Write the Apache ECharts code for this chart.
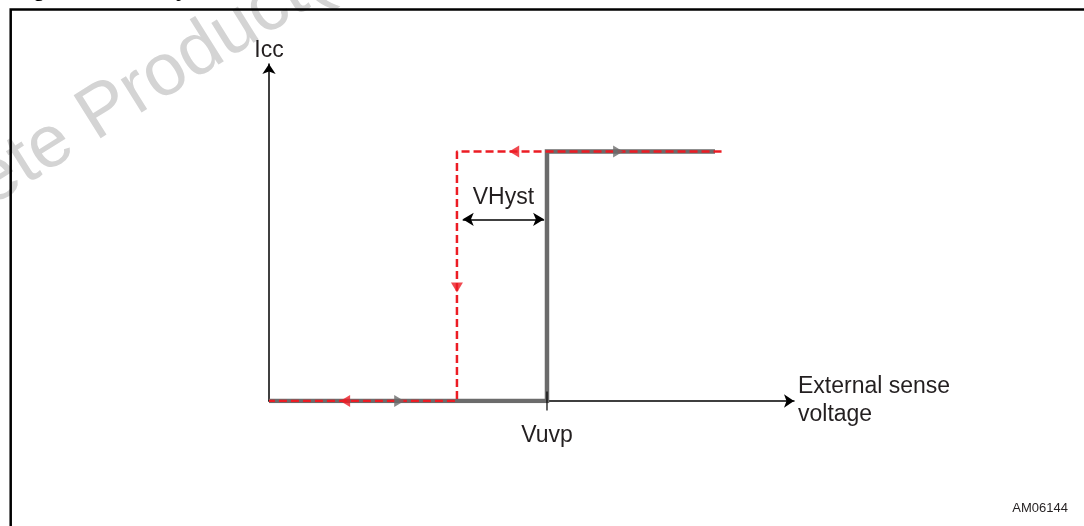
<!DOCTYPE html>
<html>
<head>
<meta charset="utf-8">
<script src="https://cdn.jsdelivr.net/npm/echarts@6/dist/echarts.min.js"></script>
<style>
html,body{margin:0;padding:0;background:#fff;}
#chart{width:1084px;height:526px;}
</style>
</head>
<body>
<div id="chart"></div>
<script>
// ---- data (axis units 0..100) ----
const vOff = 35.8;      // turn-off threshold (Vuvp - VHyst)
const vuvp = 52.95;     // Vuvp
const iLow = 0;
const iHigh = 74.0;
const grayEnd = 84.95;
const redStart = 86.2;
const grayPath = [[0, iLow], [vuvp, iLow], [vuvp, iHigh], [grayEnd, iHigh]];
const redPath = [[redStart, iHigh], [vOff, iHigh], [vOff, iLow], [0, iLow]];
const grayArrows = [[24.8, iLow, -90], [66.5, iHigh, -90]];
const redArrows = [[14.5, iLow, 90], [46.7, iHigh, 90], [vOff, 33.7, 180]];
const hystArrow = [[36.9, 53.9], [52.4, 53.9]];
const tickValues = [vuvp];
const tickLabels = ['Vuvp'];
const xName = 'External sense\nvoltage';
const yName = 'Icc';
const hystLabel = 'VHyst';
const codeLabel = 'AM06144';
const titleText = 'Figure 9. UVP hysteresis';
const watermark = 'Obsolete Product(s)';

const FONT = '"Liberation Sans", Arial, sans-serif';
const GRAY = '#6b6b6b';
const RED = '#ec1c24';
const TXT = '#231f20';

const chart = echarts.init(document.getElementById('chart'), null, {renderer: 'canvas'});
chart.setOption({
  animation: false,
  backgroundColor: '#fff',
  grid: {left: 269, right: 290, top: 64, bottom: 125, containLabel: false},
  xAxis: {
    type: 'value', min: 0, max: 100,
    splitLine: {show: false},
    axisLine: {show: true, onZero: false, lineStyle: {color: '#000', width: 1.5},
      symbol: ['none', 'arrow'], symbolSize: [10, 10]},
    axisTick: {show: false},
    axisLabel: {show: true, customValues: tickValues, formatter: (v) => tickLabels[tickValues.indexOf(v)] || '',
      margin: 23, fontSize: 23, color: TXT, fontFamily: FONT},
    name: xName, nameLocation: 'end', nameGap: 4,
    nameTextStyle: {fontSize: 23, color: TXT, fontFamily: FONT, align: 'left', verticalAlign: 'middle', lineHeight: 28}
  },
  yAxis: {
    type: 'value', min: 0, max: 100,
    splitLine: {show: false},
    axisLine: {show: true, onZero: false, lineStyle: {color: '#000', width: 1.5},
      symbol: ['none', 'arrow'], symbolSize: [10, 10]},
    axisTick: {show: false},
    axisLabel: {show: false},
    name: yName, nameLocation: 'end', nameGap: 2,
    nameTextStyle: {fontSize: 23, color: TXT, fontFamily: FONT, align: 'center', verticalAlign: 'bottom'}
  },
  graphic: [
    {type: 'text', z: -10, silent: true,
      x: -184, y: 292, rotation: 32 * Math.PI / 180,
      style: {text: watermark, fontSize: 74, fontFamily: FONT, fill: '#d4d4d4', textAlign: 'left', textVerticalAlign: 'middle'}},
    {type: 'text', x: 13, y: 1, silent: true,
      style: {text: titleText, fontSize: 22, fontWeight: 'bold', fontFamily: FONT, fill: '#000', textAlign: 'left', textVerticalAlign: 'bottom'}},
    {type: 'rect', silent: true, shape: {x: 10.7, y: 9.5, width: 2000, height: 2000},
      style: {fill: 'none', stroke: '#000', lineWidth: 2.5}},
    {type: 'text', silent: true, right: 16, bottom: 11,
      style: {text: codeLabel, fontSize: 13, fontFamily: FONT, fill: TXT}}
  ],
  series: [
    {type: 'line', data: grayPath, symbol: 'none', z: 2,
      lineStyle: {color: GRAY, width: 4.5, cap: 'butt', join: 'miter'}},
    {type: 'line', data: redPath, symbol: 'none', z: 3,
      lineStyle: {color: RED, width: 2.5, type: [8, 4]},
      markLine: {silent: true, symbol: ['arrow', 'arrow'], symbolSize: [10, 11],
        lineStyle: {color: '#000', width: 1.5, type: 'solid'},
        label: {show: true, position: 'insideMiddleTop', distance: 10, formatter: hystLabel,
          fontSize: 23, color: TXT, fontFamily: FONT},
        data: [[{coord: hystArrow[0]}, {coord: hystArrow[1]}]]}},
    {type: 'scatter', data: grayArrows, z: 4, symbol: 'triangle', symbolSize: [12, 10],
      symbolRotate: (v) => v[2], itemStyle: {color: GRAY}},
    {type: 'scatter', data: redArrows, z: 5, symbol: 'triangle', symbolSize: [12, 10],
      symbolRotate: (v) => v[2], itemStyle: {color: RED}},
    {type: 'scatter', data: [[vuvp, iLow]], z: 6, symbol: 'rect', symbolSize: [1.5, 19],
      itemStyle: {color: '#000'}}
  ]
});
</script>
</body>
</html>
